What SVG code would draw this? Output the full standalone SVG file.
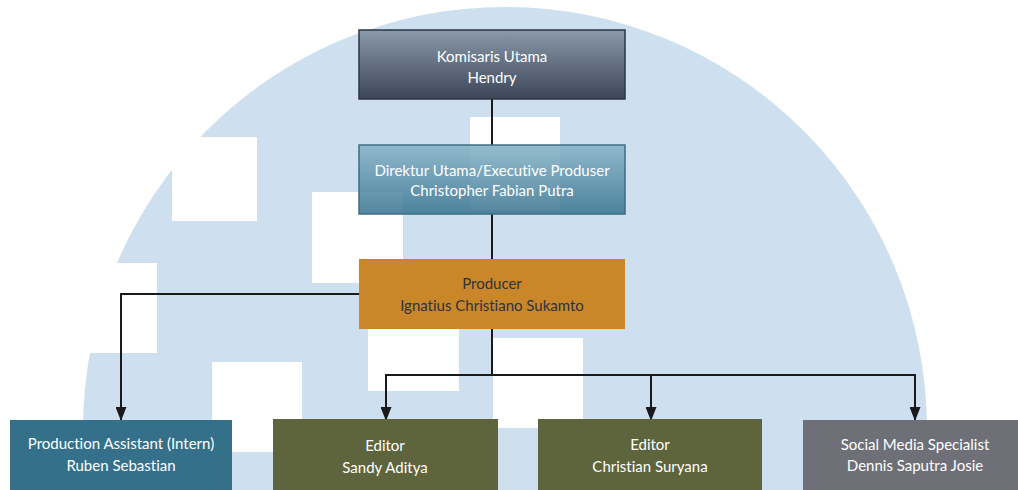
<svg xmlns="http://www.w3.org/2000/svg" width="1018" height="490" viewBox="0 0 1018 490">
  <defs>
    <linearGradient id="gKom" x1="0" y1="0" x2="0" y2="1">
      <stop offset="0" stop-color="#8a99ab"/>
      <stop offset="1" stop-color="#3c4658"/>
    </linearGradient>
    <linearGradient id="gDir" x1="0" y1="0" x2="0" y2="1">
      <stop offset="0" stop-color="#87b3c8"/>
      <stop offset="1" stop-color="#3b7591"/>
    </linearGradient>
    <marker id="arrow" viewBox="0 0 14 11" refX="13" refY="5.5" markerWidth="14" markerHeight="11" markerUnits="userSpaceOnUse" orient="auto">
      <path d="M0,0 L14,5.5 L0,11 Z" fill="#1a1a1a"/>
    </marker>
    <style>
      .lbl { font-family: Lato, "Liberation Sans", sans-serif; font-size: 15px; text-anchor: middle; font-variant-ligatures: none; font-feature-settings: "liga" 0; }
      .w { fill: #ffffff; }
      .d { fill: #2e333c; }
      .conn { fill: none; stroke: #1a1a1a; stroke-width: 2; }
      .hole { fill: #ffffff; }
    </style>
  </defs>

  <rect x="0" y="0" width="1018" height="490" fill="#ffffff"/>

  <g id="background">
    <circle cx="505" cy="429" r="422" fill="#cee0ef"/>
    <rect class="hole" x="172" y="137" width="85" height="84"/>
    <rect class="hole" x="312" y="192" width="91" height="91"/>
    <rect class="hole" x="470" y="117" width="90" height="93"/>
    <rect class="hole" x="40" y="263" width="117" height="90"/>
    <rect class="hole" x="212" y="362" width="90" height="90"/>
    <rect class="hole" x="368" y="300" width="91" height="91"/>
    <rect class="hole" x="493" y="338" width="90" height="90"/>
  </g>

  <g id="connectors">
    <path class="conn" d="M492,99 V145"/>
    <path class="conn" d="M492,214 V259"/>
    <path class="conn" d="M359,294 H121 V420" marker-end="url(#arrow)"/>
    <path class="conn" d="M492,329 V375 H386 V420" marker-end="url(#arrow)"/>
    <path class="conn" d="M492,375 H651 V420" marker-end="url(#arrow)"/>
    <path class="conn" d="M651,375 H915 V420" marker-end="url(#arrow)"/>
  </g>

  <g id="komisaris">
    <rect x="359" y="30" width="266" height="69" fill="url(#gKom)" stroke="#2c3644" stroke-width="1.5"/>
    <text class="lbl w" x="492" y="62">Komisaris Utama</text>
    <text class="lbl w" x="492" y="83">Hendry</text>
  </g>

  <g id="direktur">
    <rect x="359" y="145" width="266" height="69" fill="url(#gDir)" fill-opacity="0.88" stroke="#3d6c84" stroke-width="1.5"/>
    <text class="lbl w" x="492" y="176">Direktur Utama/Executive Produser</text>
    <text class="lbl w" x="492" y="196">Christopher Fabian Putra</text>
  </g>

  <g id="producer">
    <rect x="359" y="259" width="266" height="70" fill="#ca872a"/>
    <text class="lbl d" x="492" y="289">Producer</text>
    <text class="lbl d" x="492" y="311">Ignatius Christiano Sukamto</text>
  </g>

  <g id="production-assistant">
    <rect x="10" y="420" width="222" height="75" fill="#35708b"/>
    <text class="lbl w" x="121" y="449">Production Assistant (Intern)</text>
    <text class="lbl w" x="121" y="471">Ruben Sebastian</text>
  </g>

  <g id="editor-sandy">
    <rect x="273" y="419" width="225" height="76" fill="#5e643b"/>
    <text class="lbl w" x="385" y="451">Editor</text>
    <text class="lbl w" x="385" y="473">Sandy Aditya</text>
  </g>

  <g id="editor-christian">
    <rect x="538" y="419" width="224" height="76" fill="#5e643b"/>
    <text class="lbl w" x="650" y="450">Editor</text>
    <text class="lbl w" x="650" y="472">Christian Suryana</text>
  </g>

  <g id="social-media">
    <rect x="803" y="420" width="224" height="75" fill="#6f6f77"/>
    <text class="lbl w" x="915" y="450">Social Media Specialist</text>
    <text class="lbl w" x="915" y="471">Dennis Saputra Josie</text>
  </g>
</svg>
